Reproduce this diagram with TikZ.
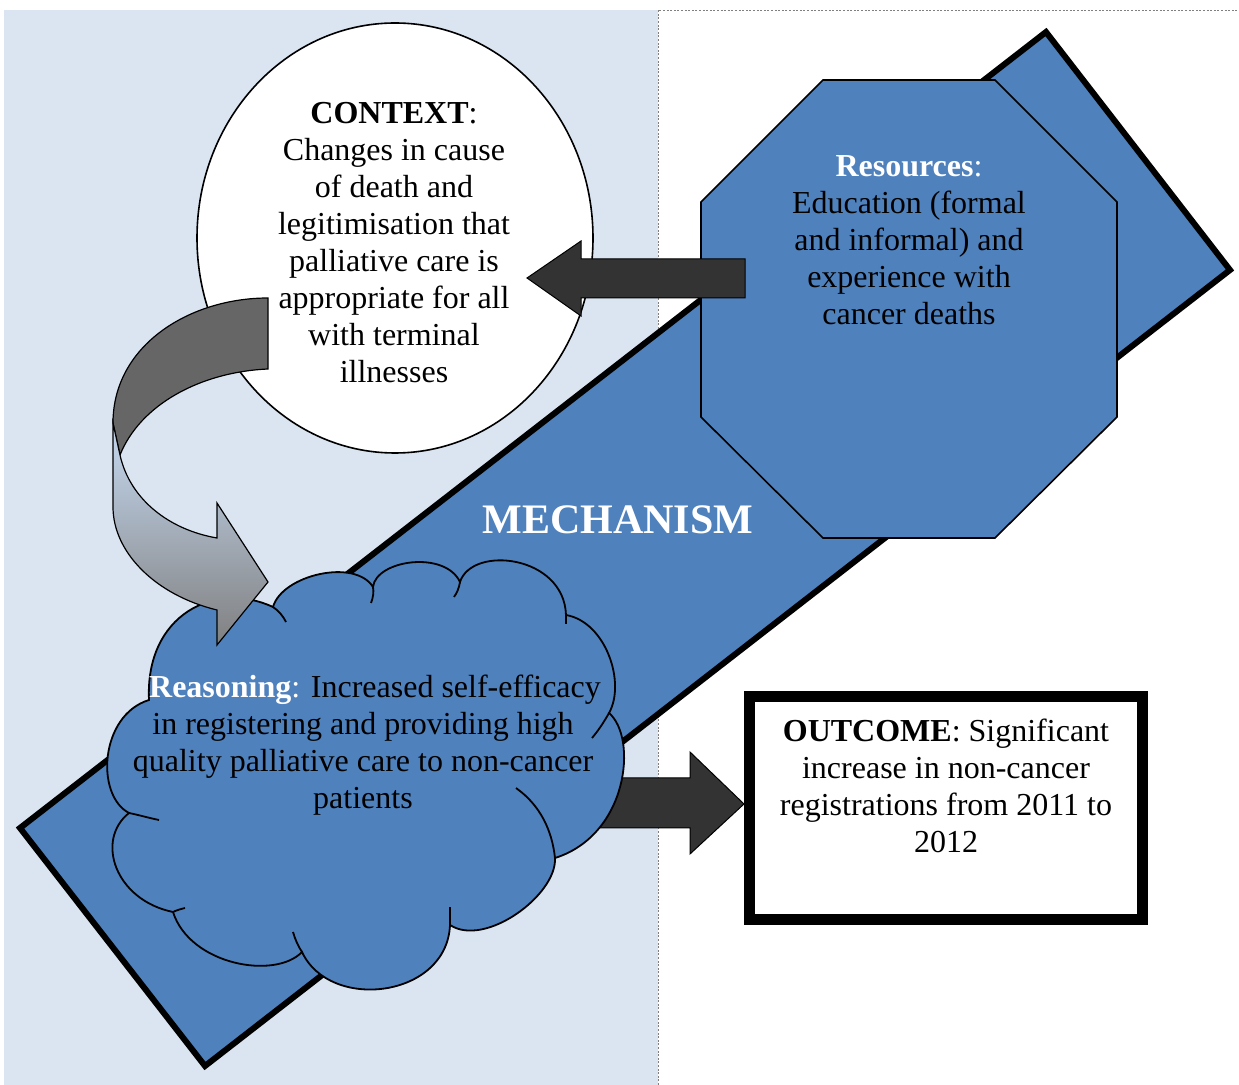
\documentclass[tikz,border=0pt]{standalone}
\usepackage{fontspec}
\setmainfont{Liberation Serif}
\usepackage{tikz}
\usetikzlibrary{shapes,arrows,positioning,calc}
\usepackage{xcolor}
\definecolor{mechblue}{RGB}{79,129,189}
\definecolor{paleblue}{RGB}{219,229,241}
\definecolor{darkarrow}{RGB}{51,51,51}
\definecolor{curvedark}{RGB}{102,102,102}
\definecolor{curvetop}{RGB}{198,217,241}
\definecolor{curvebot}{RGB}{128,128,128}

\begin{document}
\begin{tikzpicture}[x=0.5pt,y=-0.5pt,
    txt/.style={align=center,font=\fontsize{16}{18.5}\selectfont,inner sep=0pt},
    blockarrow/.style={draw=black,line width=0.5pt,fill=darkarrow},
    puff/.style={line width=0.9pt}]
    \useasboundingbox (0,0) rectangle (1239,1085);

    % Background panels
    \fill[paleblue] (4,10) rectangle (658,1085);
    \draw[gray,dash pattern=on 1pt off 0.8pt,line width=0.4pt] (658,1085) -- (658,10) -- (1239,10);

    % Mechanism band
    \draw[fill=mechblue,line width=3pt] (20,828) -- (1046,32) -- (1230,270) -- (205,1066) -- cycle;
    \node[white,font=\fontsize{21}{24}\selectfont\bfseries] (mech) at (618,520) {MECHANISM};

    % Resources
    \draw[fill=mechblue,line width=0.8pt] (823,80) -- (995,80) -- (1117,202) -- (1117,417)
        -- (995,538) -- (823,538) -- (701,417) -- (701,202) -- cycle;
    \node[txt] (resources) at (909,240) {\textcolor{white}{\textbf{Resources}:}\\ Education (formal\\ and informal) and\\ experience with\\ cancer deaths};

    % Context
    \node[ellipse,draw,fill=white,line width=0.8pt,minimum width=198pt,minimum height=215pt] (context) at (395,238) {};
    \node[txt] (contexttext) at (394,243) {\textbf{CONTEXT}:\\ Changes in cause\\ of death and\\ legitimisation that\\ palliative care is\\ appropriate for all\\ with terminal\\ illnesses};

    % Block arrows
    \draw[blockarrow] (745,259) -- (581,259) -- (581,241) -- (527,278) -- (581,316) -- (581,298) -- (745,298) -- cycle;
    \draw[blockarrow] (595,778) -- (690,778) -- (690,752) -- (744,804) -- (690,854) -- (690,828) -- (595,828) -- cycle;

    % Reasoning cloud
    \draw[puff,fill=mechblue] (149,700) .. controls (145,615) and (215,580) .. (273,607)
        .. controls (282,575) and (355,558) .. (373,587)
        .. controls (376,560) and (445,550) .. (460,582)
        .. controls (472,545) and (564,555) .. (566,615)
        .. controls (606,622) and (626,683) .. (609,713)
        .. controls (638,738) and (628,835) .. (555,858)
        .. controls (557,895) and (485,948) .. (450,925)
        .. controls (447,998) and (330,1012) .. (302,952)
        .. controls (275,980) and (190,965) .. (173,912)
        .. controls (115,900) and (95,840) .. (129,813)
        .. controls (95,795) and (100,715) .. (149,700) -- cycle;
    \draw[puff] (273,607) .. controls (279,611) and (283,616) .. (286,622);
    \draw[puff] (373,587) .. controls (374,592) and (373,598) .. (371,603);
    \draw[puff] (460,582) .. controls (459,588) and (457,593) .. (454,597);
    \draw[puff] (566,615) -- (566,624);
    \draw[puff] (609,713) .. controls (604,722) and (598,731) .. (592,738);
    \draw[puff] (516,788) .. controls (540,805) and (552,830) .. (555,858);
    \draw[puff] (450,925) -- (450,907);
    \draw[puff] (302,952) .. controls (298,946) and (295,939) .. (293,932);
    \draw[puff] (173,912) .. controls (177,910) and (181,909) .. (185,908);
    \draw[puff] (129,813) .. controls (139,815) and (149,818) .. (159,820);
    \node[txt] (reasoning) at (363,745) {\hspace*{12pt}\textcolor{white}{\textbf{Reasoning}:} Increased self-efficacy\\ in registering and providing high\\ quality palliative care to non-cancer\\ patients};

    % Curved arrow
    \draw[line width=0.6pt,fill=curvedark] (268,298) .. controls (190,298) and (113,345) .. (113,423)
        -- (120,455) .. controls (140,405) and (200,372) .. (268,369) -- cycle;
    \draw[line width=0.6pt,top color=curvetop,bottom color=curvebot] (113,423) -- (113,507)
        .. controls (113,552) and (155,595) .. (217,610) -- (217,645) -- (268,582) -- (217,503) -- (217,538)
        .. controls (170,530) and (130,500) .. (120,455) -- cycle;

    % Outcome
    \node[draw,line width=5.5pt,fill=white,minimum width=196.5pt,minimum height=111.5pt,inner sep=0pt] (outcomebox) at (946,808) {};
    \node[txt] (outcome) at (946,786) {\textbf{OUTCOME}: Significant\\ increase in non-cancer\\ registrations from 2011 to\\ 2012};
\end{tikzpicture}
\end{document}
